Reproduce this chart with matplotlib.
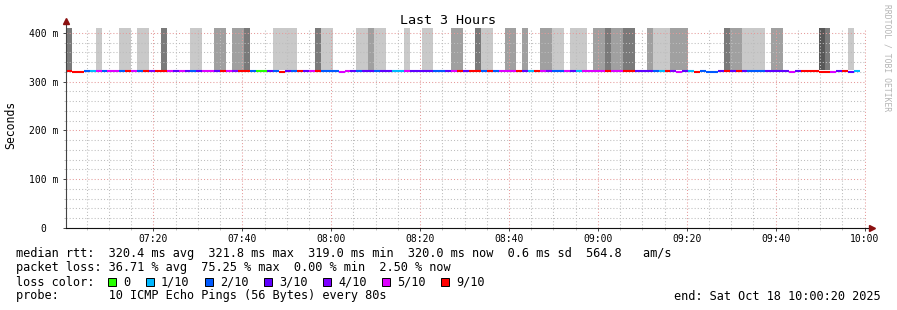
import numpy as np
import matplotlib
matplotlib.use("Agg")
from matplotlib import pyplot as plt
from matplotlib.patches import Rectangle

# probe results, one entry per 80 s step, starting 07:00:20
# loss in tenths of the 10 pings sent
loss = [
    9, 9, 9, 2, 1, 5, 2, 5, 5, 2,
    9, 5, 2, 9, 4, 9, 9, 5, 3, 5,
    3, 2, 3, 5, 5, 3, 9, 5, 4, 9,
    9, 2, 0, 0, 3, 2, 9, 3, 2, 9,
    3, 5, 9, 2, 2, 2, 5, 5, 3, 2,
    3, 3, 2, 3, 3, 1, 1, 5, 3, 3,
    3, 3, 2, 2, 3, 5, 9, 3, 9, 9,
    2, 9, 2, 5, 5, 5, 9, 3, 1, 9,
    5, 4, 2, 2, 5, 3, 1, 5, 5, 5,
    5, 9, 5, 5, 9, 9, 3, 3, 3, 2,
    1, 9, 4, 5, 3, 1, 9, 2, 2, 2,
    3, 9, 3, 9, 3, 2, 2, 2, 3, 3,
    3, 3, 5, 3, 9, 9, 9, 9, 9, 5,
    3, 9, 3, 1,
]

# median rtt in ms
median = [
    321, 320, 320, 321, 321, 321, 321, 321, 321, 321,
    321, 321, 321, 321, 321, 321, 321, 321, 321, 321,
    321, 321, 321, 321, 321, 321, 321, 321, 321, 321,
    321, 321, 321, 321, 321, 321, 319, 321, 321, 321,
    321, 321, 321, 321, 321, 321, 319.5, 321, 321, 321,
    321, 321, 321, 321, 321, 321, 321, 322.5, 321, 321,
    321, 321, 321, 321, 321, 321, 321, 321, 322.5, 322.5,
    322.5, 321, 321, 321, 321, 321, 321, 321, 321, 321,
    321, 322.5, 321, 321, 321, 321, 321, 322.5, 321, 321,
    321, 321, 321, 321, 321, 321, 321, 321, 321, 321,
    321, 321, 322.5, 319, 321, 321, 319, 321, 320, 320,
    321, 321, 321, 321, 321, 321, 321, 321, 321, 321,
    321, 321, 319, 321, 321, 321, 321, 319.5, 319.5, 319.5,
    321, 321, 319.5, 321,
]

# smoke density (0 = none, 4 = darkest)
smoke = [
    3, 0, 0, 0, 0, 1, 0, 0, 0, 1,
    1, 0, 1, 1, 0, 0, 3, 0, 0, 0,
    0, 1, 1, 0, 0, 2, 2, 0, 2, 2,
    3, 0, 0, 0, 0, 1, 1, 1, 1, 0,
    0, 0, 3, 1, 1, 0, 0, 0, 0, 1,
    1, 2, 1, 1, 0, 0, 0, 1, 0, 0,
    1, 1, 0, 0, 0, 2, 2, 0, 0, 3,
    1, 1, 0, 0, 2, 2, 0, 2, 0, 0,
    2, 2, 1, 1, 0, 1, 1, 1, 0, 2,
    2, 3, 2, 2, 3, 3, 0, 0, 2, 1,
    1, 1, 2, 2, 2, 0, 0, 0, 0, 0,
    0, 3, 2, 2, 1, 1, 1, 1, 0, 2,
    2, 0, 0, 0, 0, 0, 0, 4, 3, 0,
    0, 0, 1, 0,
]

loss_legend = ["0", "1/10", "2/10", "3/10", "4/10", "5/10", "9/10"]
loss_keys = [0, 1, 2, 3, 4, 5, 9]
loss_colors = {0: "#26ff00", 1: "#00b8ff", 2: "#0059ff", 3: "#5e00ff",
               4: "#7e00ff", 5: "#dd00ff", 9: "#ff0000"}
smoke_colors = {1: "#c9c9c9", 2: "#a0a0a0", 3: "#7a7a7a", 4: "#585858"}

tick_labels = ["07:20", "07:40", "08:00", "08:20", "08:40",
               "09:00", "09:20", "09:40", "10:00"]
ytick_labels = ["0  ", "100 m", "200 m", "300 m", "400 m"]

W, H = 897, 310
MONO = "DejaVu Sans Mono"
plt.rcParams["font.family"] = MONO


def px(x, y):
    return x / W, 1 - y / H


fig = plt.figure(figsize=(W / 100, H / 100), dpi=100)
fig.patch.set_facecolor("white")
ax = fig.add_axes([66 / W, 1 - 228 / H, 800 / W, 200 / H])

step = 80 / 60
start = 20 / 60
t = start + np.arange(len(loss)) * step

sm = np.array(smoke)
has = sm > 0
ax.bar(t[has], 200, bottom=324, width=step, align="edge",
       color=[smoke_colors[s] for s in sm[has]], linewidth=0, zorder=1)
ax.hlines(median, t, t + step, colors=[loss_colors[l] for l in loss],
          linewidth=1.5, zorder=4)

ax.set_xlim(start, start + 180)
ax.set_ylim(0, 410)
ax.set_xticks(np.arange(20, 181, 20))
ax.set_xticklabels(tick_labels)
ax.set_xticks(np.arange(5, 181, 5), minor=True)
ax.set_yticks([0, 100, 200, 300, 400])
ax.set_yticklabels(ytick_labels)
ax.set_yticks(np.arange(20, 410, 20), minor=True)

ax.set_axisbelow(False)
ax.grid(which="minor", color="#bdbdbd", linestyle=(0, (1, 2)), linewidth=0.75)
ax.grid(which="major", color="#e59a9a", linestyle=(0, (1, 2)), linewidth=0.75)
ax.tick_params(axis="both", which="major", labelsize=7, length=2.5, width=0.7,
               color="#444444", pad=3)
ax.tick_params(axis="both", which="minor", length=1.5, width=0.5, color="#aaaaaa")
ax.tick_params(axis="x", which="major", pad=2)
for s in ax.spines.values():
    s.set_visible(False)

# axes with arrows
ax.plot([0, 0], [0, 1.025], transform=ax.transAxes, color="#444444",
        lw=0.8, clip_on=False, zorder=5)
ax.plot([0, 1.005], [0, 0], transform=ax.transAxes, color="#111111",
        lw=0.8, clip_on=False, zorder=5)
ax.plot([0], [1.035], transform=ax.transAxes, marker="^", ms=4.5,
        color="#8b1010", clip_on=False, zorder=6)
ax.plot([1.007], [0], transform=ax.transAxes, marker=">", ms=4.5,
        color="#8b1010", clip_on=False, zorder=6)

fig.text(*px(448, 20), "Last 3 Hours", ha="center", va="center", fontsize=9.6)
fig.text(*px(11, 125), "Seconds", ha="center", va="center", rotation=90,
         fontsize=8.3)
fig.text(*px(887, 4), "RRDTOOL / TOBI OETIKER", ha="center", va="top",
         rotation=270, fontsize=5.8, color="#b4b4b4")

fs = 8.6
fig.text(*px(16, 254), "median rtt:  320.4 ms avg  321.8 ms max  319.0 ms min"
         "  320.0 ms now  0.6 ms sd  564.8   am/s", va="center", fontsize=fs)
fig.text(*px(16, 268), "packet loss: 36.71 % avg  75.25 % max  0.00 % min"
         "  2.50 % now", va="center", fontsize=fs)
fig.text(*px(16, 282), "loss color:", va="center", fontsize=fs)
fig.text(*px(16, 296), "probe:       10 ICMP Echo Pings (56 Bytes) every 80s",
         va="center", fontsize=fs)
fig.text(*px(881, 296), "end: Sat Oct 18 10:00:20 2025", ha="right",
         va="center", fontsize=fs)

x = 108
for key, lab in zip(loss_keys, loss_legend):
    x0, y0 = px(x, 286)
    fig.patches.append(Rectangle((x0, y0), 8 / W, 8 / H, transform=fig.transFigure,
                                 facecolor=loss_colors[key], edgecolor="black",
                                 linewidth=0.7))
    fig.text(*px(x + 15, 282), lab, va="center", fontsize=fs)
    x = x + 15 + len(lab) * 7 + 16

fig.savefig("out.png", dpi=100)
